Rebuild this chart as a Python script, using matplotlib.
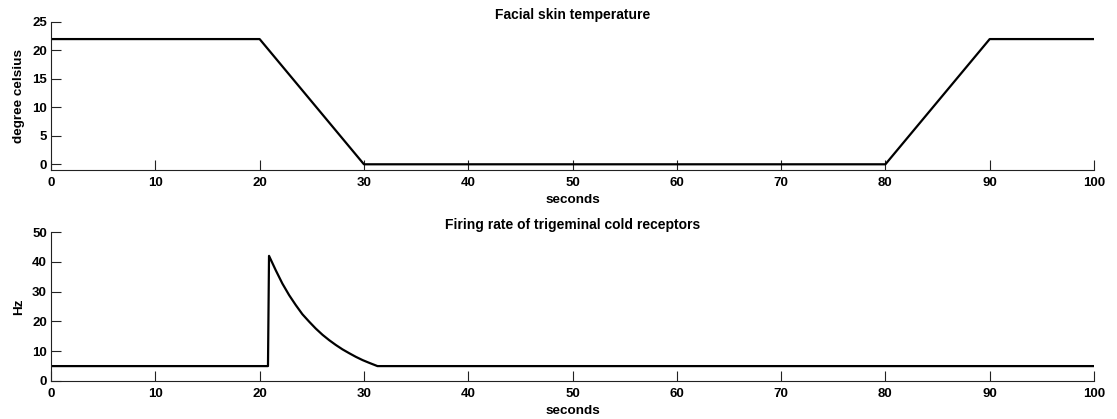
import numpy as np
import matplotlib.pyplot as plt

plt.rcParams['font.family'] = ['Liberation Sans', 'DejaVu Sans']
plt.rcParams['font.weight'] = 'bold'
plt.rcParams['font.size'] = 9.5

# skin temperature (deg C) at the corners of the cooling protocol
temp_t = [0, 20, 30, 80, 90, 100]
temp_c = [22, 22, 0, 0, 22, 22]

# cold receptor firing rate, read along the response
rate_t = [0, 20.8, 20.9, 21.54, 22.18, 22.83, 23.46, 24.1, 24.75, 25.38,
          26.03, 26.67, 27.3, 27.95, 28.6, 29.23, 29.88, 30.5, 31.3, 100]
rate_hz = [5, 5, 42, 37.2, 32.7, 28.8, 25.5, 22.4, 19.9, 17.6,
           15.5, 13.7, 12.1, 10.6, 9.3, 8.1, 7.0, 6.1, 5, 5]

fig = plt.figure(figsize=(11.17, 4.19), dpi=100)
ax1 = fig.add_axes([0.0457, 0.5943, 0.9337, 0.3532])
ax2 = fig.add_axes([0.0457, 0.0907, 0.9337, 0.3556])

def style(ax):
    for s in ['top', 'right']:
        ax.spines[s].set_visible(False)
    for s in ['left', 'bottom']:
        ax.spines[s].set_linewidth(0.8)
        ax.spines[s].set_color('#222222')
    ax.tick_params(direction='in', length=7, width=0.8, color='#222222')
    ax.tick_params(axis='x', pad=5)
    ax.tick_params(axis='y', pad=3)
    ax.set_xlim(0, 100)
    ax.set_xticks(np.arange(0, 101, 10))
    ax.set_xlabel('seconds', labelpad=4, fontsize=9.7, fontweight='bold')

ax1.plot(temp_t, temp_c, 'k-', lw=1.6)
style(ax1)
ax1.set_ylim(-1, 25)
ax1.set_yticks(np.arange(0, 26, 5))
ax1.set_ylabel('degree celsius', labelpad=5, fontsize=9.7, fontweight='bold')
ax1.set_title('Facial skin temperature', fontsize=10, fontweight='bold', pad=1)

ax2.plot(rate_t, rate_hz, 'k-', lw=1.6)
style(ax2)
ax2.set_ylim(0, 50)
ax2.set_yticks(np.arange(0, 51, 10))
ax2.set_ylabel('Hz', labelpad=5, fontsize=9.7, fontweight='bold')
ax2.set_title('Firing rate of trigeminal cold receptors', fontsize=10, fontweight='bold', pad=0)

fig.savefig('out.png', dpi=100)
